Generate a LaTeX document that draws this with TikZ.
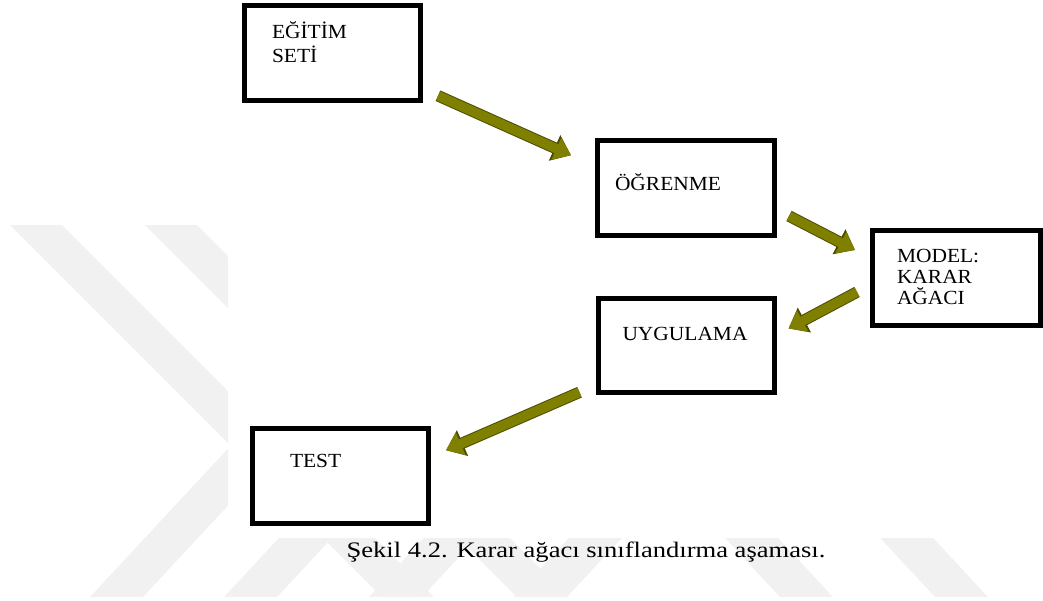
\documentclass[tikz,border=0pt]{standalone}
\usepackage{fontspec}
\setmainfont{Liberation Serif}
\newfontfamily\boxfont[FakeStretch=1.07]{Liberation Serif}
\newfontfamily\capfont[FakeStretch=1.2]{Liberation Serif}
\usepackage{tikz}
\usetikzlibrary{arrows.meta,positioning,calc}
\definecolor{arrowfill}{HTML}{808000}
\definecolor{arrowedge}{HTML}{4D4D00}
\definecolor{watermark}{HTML}{F1F1F1}

\begin{document}
\begin{tikzpicture}[
    x=0.2mm,y=-0.2mm,
    stage/.style={draw=black,line width=1mm,fill=white,align=left,inner sep=0pt,
      minimum width=35.2mm,minimum height=18.9mm,text height=2.4mm,
      font=\boxfont\fontsize{11.4pt}{12.2pt}\selectfont},
    flow/.style={-{Triangle[length=3.2mm,width=4.6mm]},line width=1.9mm,draw=arrowfill,
      preaction={draw=arrowedge,line width=2.3mm,-{Triangle[length=3.6mm,width=5.4mm]}}},
    stripe/.style={fill=watermark},
    caption/.style={font=\capfont\fontsize{12.6pt}{15pt}\selectfont,anchor=base}
  ]
  \useasboundingbox (0,0) rectangle (1043,601);

  % faint watermark bands, hidden behind the figure area
  \begin{scope}
    \clip (0,225) rectangle (228,597) (0,538) rectangle (1043,597);
    \foreach \xa in {10,145}
      \fill[stripe] (\xa,225) -- ++(52,0) -- ++(400,400) -- ++(-52,0) -- cycle;
    \foreach \xb in {90,224,369,514}
      \fill[stripe] (\xb,597) -- ++(53,0) -- ++(372,-400) -- ++(-53,0) -- cycle;
    \foreach \xc in {780,935}
      \fill[stripe] (\xc,597) -- ++(53,0) -- ++(-93,-100) -- ++(-53,0) -- cycle;
  \end{scope}

  % stages
  \node[stage,text width=24.2mm,text depth=8.4mm] (train) at (332.5,53)
    {EĞİTİM\\[2pt]SETİ};
  \node[stage,minimum width=35.4mm,text width=28.4mm,text depth=1.6mm] (learn)
    at (686,188) {ÖĞRENME};
  \node[stage,minimum width=33.6mm,text width=23.8mm,text depth=8.8mm] (model)
    at (956.5,278) {MODEL:\\KARAR\\AĞACI};
  \node[stage,below=11.6mm of learn,text width=25.4mm,text depth=4.6mm] (apply)
    {UYGULAMA};
  \node[stage,text width=20.2mm,text depth=6mm] (test) at (340.5,476) {TEST};

  \node[caption] (cap) at (586,557)
    {Şekil 4.2. Karar ağacı sınıflandırma aşaması.};

  % flow between stages
  \draw[flow] ($(train.south east)+(15,-7)$) -- ($(learn.north west)+(-24,17)$);
  \draw[flow] ($(learn.east)+(12,28)$) -- ($(model.west)+(-15,-28)$);
  \draw[flow] ($(model.west)+(-13,14)$) -- ($(apply.east)+(12,-17)$);
  \draw[flow] ($(apply.south west)+(-16,-3)$) -- ($(test.north east)+(15,24)$);
\end{tikzpicture}
\end{document}
